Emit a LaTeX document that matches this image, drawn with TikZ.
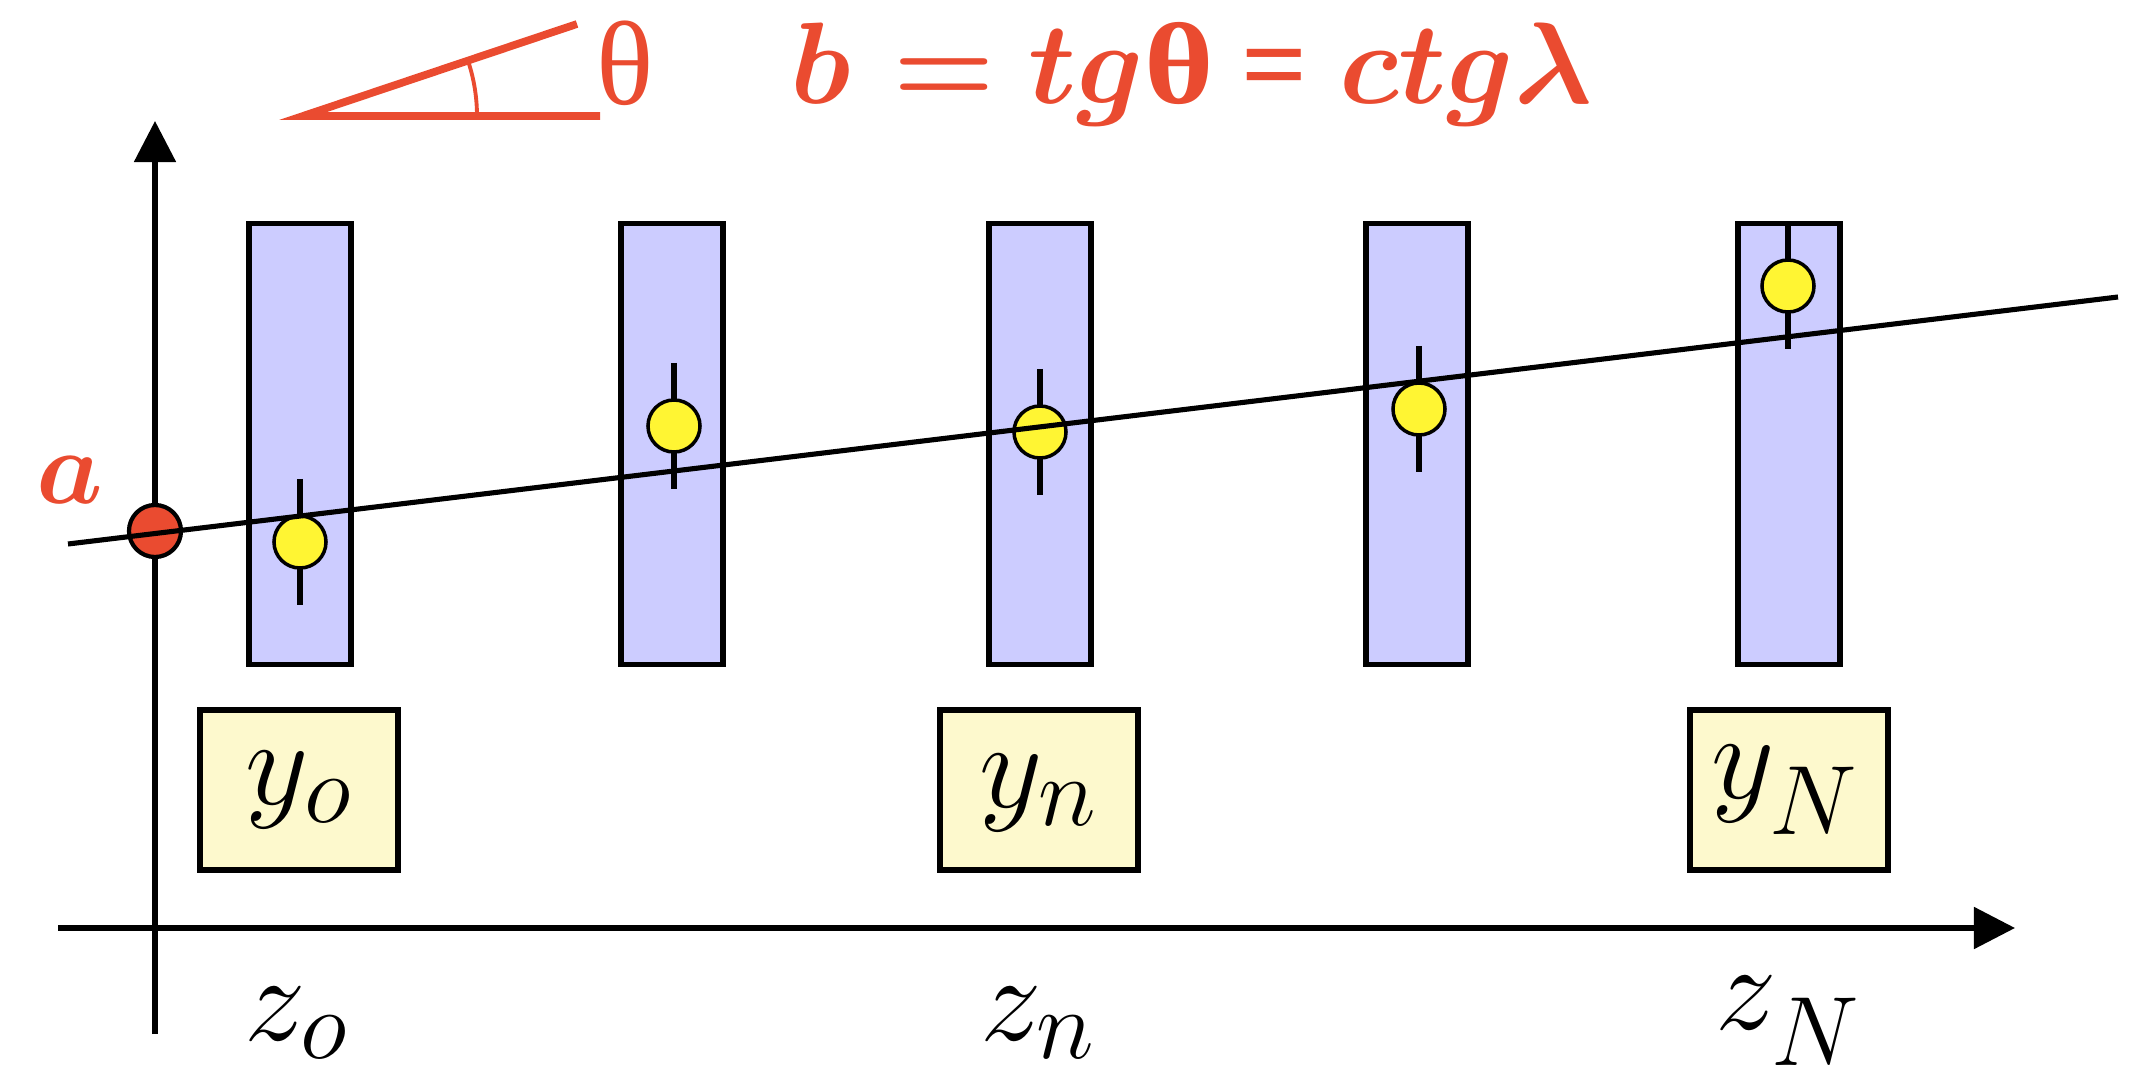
\RequirePackage{fix-cm}
\documentclass[tikz,border=0pt]{standalone}
\usepackage{fontspec}
\usepackage{bm}
\usetikzlibrary{arrows.meta}
\newfontfamily\grk{Liberation Serif}
\DeclareMathSizes{35}{35}{28}{20}
\DeclareMathSizes{33}{33}{24}{18}
\DeclareMathSizes{30}{30}{22}{16}
\definecolor{myred}{RGB}{234,75,48}
\definecolor{barblue}{RGB}{204,204,255}
\definecolor{ptyellow}{RGB}{255,245,51}
\definecolor{boxyellow}{RGB}{253,249,205}
\newcommand{\lowN}{\raisebox{-0.15em}{$\scriptstyle N$}}
\tikzset{
  axis/.style={line width=1.45pt, -{Triangle[length=0.41cm,width=0.41cm]}},
  bar/.style={draw=black, fill=barblue, line width=1.45pt, minimum width=1.02cm, minimum height=4.41cm, inner sep=0},
  meas/.style={circle, draw=black, fill=ptyellow, line width=1pt, minimum size=0.52cm, inner sep=0},
  errbar/.style={line width=1.6pt},
  ybox/.style={draw=black, fill=boxyellow, line width=1.7pt, minimum width=1.97cm, minimum height=1.60cm, inner sep=0},
  lbl/.style={font=\fontsize{35}{40}\selectfont, inner sep=0},
  redline/.style={draw=myred, line width=2.2pt},
}
\begin{document}
\begin{tikzpicture}[x=0.01cm,y=-0.01cm]
\useasboundingbox (0,0) rectangle (2147,1076);
% axes
\coordinate (xs) at (58,928);
\coordinate (xe) at (2015,928);
\coordinate (ys) at (155,1034);
\coordinate (ye) at (155,121);
\draw[axis] (xs) -- (xe);
\draw[axis] (ys) -- (ye);
% bars
\node[bar] (b1) at (300,444) {};
\node[bar] (b2) at (672,444) {};
\node[bar] (b3) at (1040,444) {};
\node[bar] (b4) at (1417,444) {};
\node[bar] (b5) at (1789,444) {};
% measurement points
\foreach \n/\px/\py in {p1/300/542, p2/674/426, p3/1040/432, p4/1419/409, p5/1788/286}{
  \draw[errbar] (\px,\py-63) -- (\px,\py+63);
  \node[meas] (\n) at (\px,\py) {};
}
% intercept point
\node[circle, draw=black, fill=myred, line width=1.2pt, minimum size=0.52cm, inner sep=0] (pa) at (155,531) {};
% fit line
\coordinate (f1) at (68,544);
\coordinate (f2) at (2118,297);
\draw[line width=1.45pt] (f1) -- (f2);
% labels
\node[myred, inner sep=0, font=\fontsize{30}{34}\selectfont] (la) at (70,480) {$\bm{a}$};
\node[ybox] (y0) at (299,790) {};
\node[lbl] at (y0.center) {$y_o$};
\node[ybox] (yn) at (1039,790) {};
\node[lbl] at ([yshift=-0.03cm]yn.center) {$y_n$};
\node[ybox] (yN) at (1789,790) {};
\node[lbl] at ([xshift=-0.04cm]yN.center) {$y_{\lowN}$};
\node[lbl] (z0) at (297,1023) {$z_o$};
\node[lbl] (zn) at (1038,1023) {$z_n$};
\node[lbl] (zN) at (1788,1021) {$z_{\lowN}$};
% angle symbol
\coordinate (av) at (303,116);
\coordinate (ah) at (600,116);
\coordinate (as) at (577,24);
\draw[redline] (ah) -- (av) -- (as);
\draw[draw=myred, line width=1.1pt] (av) ++(174,0) arc[start angle=0, end angle=18.56, radius=1.74cm];
\node[myred, inner sep=0, font=\fontsize{34}{38}\grk] (th) at (625,63) {θ};
% formula
\node[myred, inner sep=0, anchor=base west, font=\fontsize{33}{38}\selectfont\boldmath] (form) at (790,104)
  {$b$\hspace{0.42cm}$=$\hspace{0.34cm}$tg${\grk\bfseries\scalebox{1.15}[1]{θ}\hspace{0.27cm}=}\hspace{0.32cm}$ctg\lambda$};
\end{tikzpicture}
\end{document}
